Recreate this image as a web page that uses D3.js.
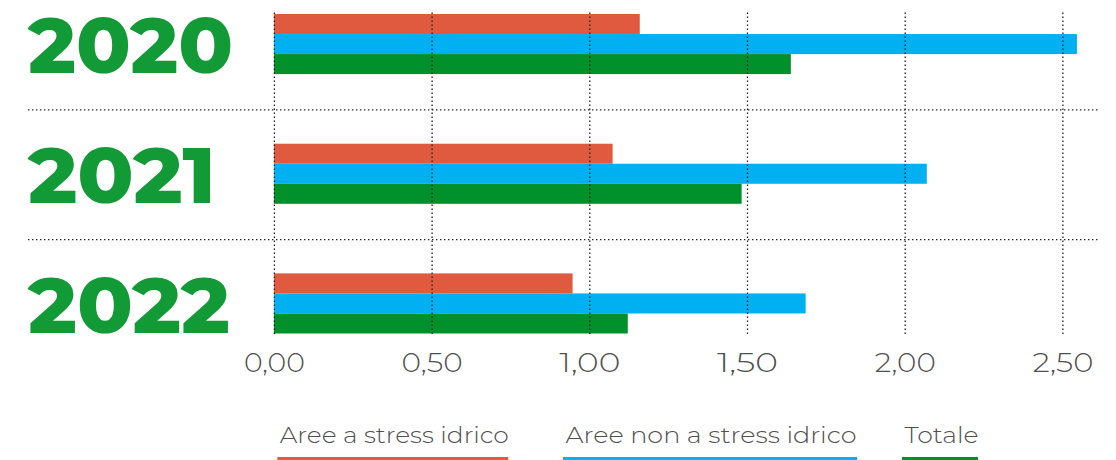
<!DOCTYPE html>
<html>
<head>
<meta charset="utf-8">
<script src="https://cdn.jsdelivr.net/npm/d3@7"></script>
<style>
  html, body { margin: 0; padding: 0; background: #fff; }
  svg { display: block; }
</style>
</head>
<body>
<svg id="chart" width="1116" height="460"></svg>
<script>
const years = ["2020", "2021", "2022"];
const seriesNames = ["Aree a stress idrico", "Aree non a stress idrico", "Totale"];
const stressValues = [1.16, 1.074, 0.947];
const nonStressValues = [2.546, 2.07, 1.686];
const totalValues = [1.639, 1.483, 1.122];
const tickValues = [0, 0.5, 1.0, 1.5, 2.0, 2.5];
const tickLabels = ["0,00", "0,50", "1,00", "1,50", "2,00", "2,50"];
const colors = ["#E05A40", "#00B0F0", "#00902C"];

const series = [stressValues, nonStressValues, totalValues];

const svg = d3.select("#chart");

const x = d3.scaleLinear().domain([0, 2.5]).range([273.9, 1062.4]);
const y = d3.scaleBand().domain(years).range([14, 333.5]).paddingInner(0.5367).paddingOuter(0);
const ySub = d3.scaleBand().domain(d3.range(series.length)).range([0, y.bandwidth()]);

// vertical gridlines + tick labels via axis
const axis = d3.axisBottom(x)
  .tickValues(tickValues)
  .tickFormat((d, i) => tickLabels[i])
  .tickSize(-(334 - 12))
  .tickPadding(0);

const gAxis = svg.append("g").attr("transform", "translate(0,334)").call(axis);
gAxis.select(".domain").remove();
gAxis.selectAll(".tick line")
  .attr("stroke", "#222")
  .attr("stroke-width", 1.3)
  .attr("stroke-dasharray", "1.4,2.6");
gAxis.selectAll(".tick text")
  .attr("y", 38)
  .attr("dy", 0)
  .attr("fill", "#505050")
  .attr("font-family", "Montserrat, Lato, 'Open Sans', sans-serif")
  .attr("font-weight", 300)
  .attr("font-size", 27)
  .attr("textLength", 61)
  .attr("lengthAdjust", "spacingAndGlyphs");

// horizontal separators between years
const sepYs = years.slice(1).map(yr => (y(yr) - (y.step() - y.bandwidth()) / 2) + 1);
svg.append("g").selectAll("line").data(sepYs).join("line")
  .attr("x1", 28).attr("x2", 1100)
  .attr("y1", d => d).attr("y2", d => d)
  .attr("stroke", "#222")
  .attr("stroke-width", 1.3)
  .attr("stroke-dasharray", "1.4,2.6");

// bars (under the dotted gridlines)
const barsG = svg.insert("g", ":first-child");
series.forEach((vals, si) => {
  barsG.append("g").selectAll("rect").data(vals).join("rect")
    .attr("x", x(0))
    .attr("y", (d, i) => y(years[i]) + ySub(si))
    .attr("width", d => x(d) - x(0))
    .attr("height", ySub.bandwidth())
    .attr("fill", colors[si]);
});

// year labels
const yearWidths = { "2020": 205, "2021": 188, "2022": 202 };
svg.append("g").selectAll("text").data(years).join("text")
  .attr("x", 28)
  .attr("y", d => y(d) + y.bandwidth() - 1)
  .attr("fill", "#129A37")
  .attr("font-family", "Montserrat, Inter, 'Open Sans', sans-serif")
  .attr("font-weight", 800)
  .attr("font-size", 77)
  .attr("textLength", d => yearWidths[d])
  .attr("lengthAdjust", "spacingAndGlyphs")
  .text(d => d);

// legend
const legendItems = [
  { x: 277.3, w: 231, tw: 229 },
  { x: 563, w: 294, tw: 291 },
  { x: 902, w: 76, tw: 74 }
];
const leg = svg.append("g");
seriesNames.forEach((name, i) => {
  const it = legendItems[i];
  leg.append("text")
    .attr("x", it.x + 2.5)
    .attr("y", 443)
    .attr("fill", "#505050")
    .attr("font-family", "Montserrat, Lato, 'Open Sans', sans-serif")
    .attr("font-weight", 300)
    .attr("font-size", 23)
    .attr("textLength", it.tw)
    .attr("lengthAdjust", "spacingAndGlyphs")
    .text(name);
  leg.append("rect")
    .attr("x", it.x)
    .attr("y", 457)
    .attr("width", it.w)
    .attr("height", 5)
    .attr("fill", colors[i]);
});
</script>
</body>
</html>
